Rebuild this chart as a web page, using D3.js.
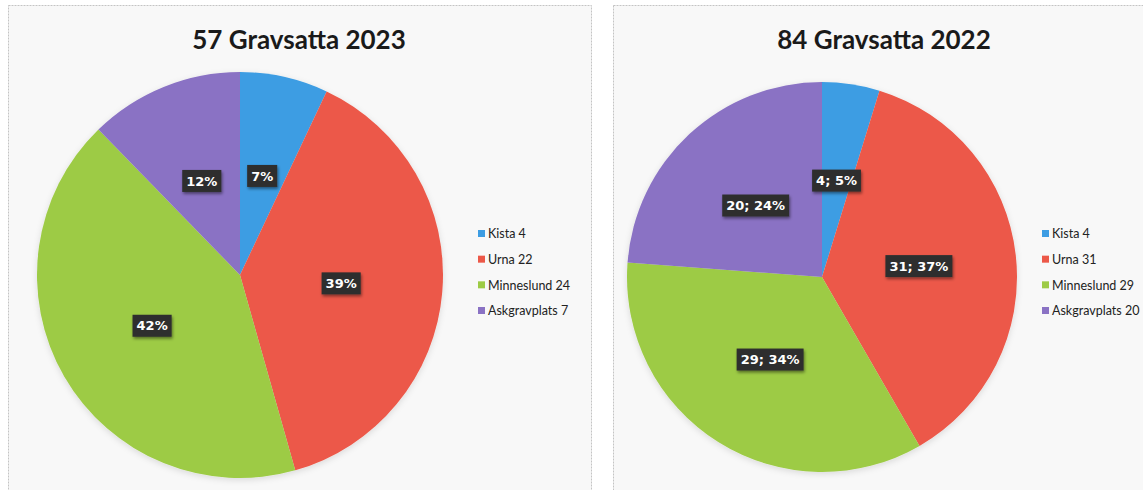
<!DOCTYPE html>
<html>
<head>
<meta charset="utf-8">
<script src="https://cdn.jsdelivr.net/npm/d3@7"></script>
<style>
  body { margin: 0; background: #ffffff; }
  svg { display: block; }
</style>
</head>
<body>
<div id="chart"></div>
<script>
// data
const categories = ["Kista", "Urna", "Minneslund", "Askgravplats"];
const values2023 = [4, 22, 24, 7];
const values2022 = [4, 31, 29, 20];
const pct2023 = [7, 39, 42, 12];
const pct2022 = [5, 37, 34, 24];
const titles = ["57 Gravsatta 2023", "84 Gravsatta 2022"];
const colors = ["#3d9de3", "#ec5848", "#9dcb45", "#8a72c4"];

const W = 1143, H = 490;

const svg = d3.select("#chart").append("svg")
	.attr("width", W)
	.attr("height", H);

// drop shadow for the label boxes
const defs = svg.append("defs");
const shadow = defs.append("filter").attr("id", "shadow")
	.attr("x", "-30%").attr("y", "-30%").attr("width", "160%").attr("height", "180%");
shadow.append("feDropShadow")
	.attr("dx", 1).attr("dy", 2).attr("stdDeviation", 1.5)
	.attr("flood-color", "#000").attr("flood-opacity", 0.45);

const pieShadow = defs.append("filter").attr("id", "pieshadow")
	.attr("x", "-10%").attr("y", "-10%").attr("width", "120%").attr("height", "120%");
pieShadow.append("feDropShadow")
	.attr("dx", 0).attr("dy", 2).attr("stdDeviation", 3)
	.attr("flood-color", "#000").attr("flood-opacity", 0.12);

const panels = [
	{x: 8, y: 5, w: 583, h: 490, cx: 240, cy: 275, r: 203, title: titles[0], tx: 299,
		values: values2023, labels: values2023.map((v, i) => pct2023[i] + "%"), lx: 478},
	{x: 613, y: 5, w: 540, h: 490, cx: 822, cy: 277, r: 195, title: titles[1], tx: 884,
		values: values2022, labels: values2022.map((v, i) => v + "; " + pct2022[i] + "%"), lx: 1042}
];

const pie = d3.pie().sort(null).value(d => d);

panels.forEach(p => {
	let g = svg.append("g");

	// panel frame
	g.append("rect")
		.attr("x", p.x + 0.5).attr("y", p.y + 0.5)
		.attr("width", p.w).attr("height", p.h)
		.attr("fill", "#f8f8f8")
		.attr("stroke", "#c4c4c4")
		.attr("stroke-dasharray", "2,1");

	g.append("text")
		.attr("x", p.tx).attr("y", 49)
		.attr("text-anchor", "middle")
		.style("font-family", "Lato, 'Open Sans', sans-serif")
		.style("font-weight", "bold")
		.style("font-size", "26px")
		.style("fill", "#1a1a1a")
		.text(p.title);

	let arc = d3.arc().innerRadius(0).outerRadius(p.r);
	let labelArc = d3.arc().innerRadius(p.r * 0.5).outerRadius(p.r * 0.5);
	let arcs = pie(p.values);

	let pg = g.append("g")
		.attr("transform", "translate(" + p.cx + "," + p.cy + ")");

	pg.append("g").attr("filter", "url(#pieshadow)")
		.selectAll("path")
		.data(arcs)
		.enter().append("path")
		.attr("d", arc)
		.attr("fill", (d, i) => colors[i]);

	// data labels
	let lab = pg.selectAll(".lab")
		.data(arcs)
		.enter().append("g")
		.attr("class", "lab")
		.attr("transform", d => "translate(" + labelArc.centroid(d) + ")");

	let txt = lab.append("text")
		.attr("text-anchor", "middle")
		.attr("dy", "0.35em")
		.style("font-family", "'DejaVu Sans', sans-serif")
		.style("font-weight", "bold")
		.style("font-size", "13px")
		.style("fill", "#ffffff")
		.text((d, i) => p.labels[i]);

	txt.each(function() {
		let bb = this.getBBox();
		d3.select(this.parentNode).insert("rect", "text")
			.attr("x", bb.x - 4).attr("y", -11)
			.attr("width", bb.width + 8).attr("height", 22)
			.attr("fill", "#2f2f2f")
			.attr("filter", "url(#shadow)");
	});

	// legend
	let ly = d3.scalePoint().domain(categories).range([234, 311]);
	let leg = g.selectAll(".leg")
		.data(categories)
		.enter().append("g")
		.attr("transform", d => "translate(" + p.lx + "," + ly(d) + ")");

	leg.append("rect")
		.attr("x", 0).attr("y", -4)
		.attr("width", 7).attr("height", 7)
		.attr("fill", (d, i) => colors[i]);

	leg.append("text")
		.attr("x", 10).attr("dy", "0.35em")
		.style("font-family", "Lato, 'Open Sans', sans-serif")
		.style("font-size", "12.5px")
		.style("fill", "#222")
		.text((d, i) => d + " " + p.values[i]);
});
</script>
</body>
</html>
